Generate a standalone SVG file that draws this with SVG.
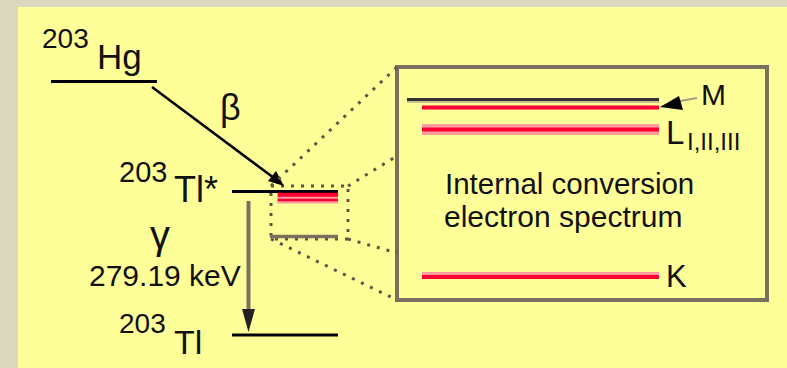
<svg xmlns="http://www.w3.org/2000/svg" width="787" height="368" viewBox="0 0 787 368">
<style>
text{font-family:"Liberation Sans",Arial,Helvetica,sans-serif;fill:#111;}
.lvl{stroke:#000;stroke-width:3;}
.dot{stroke:#5e5545;stroke-width:3;stroke-dasharray:3 7;fill:none;}
.red{stroke:#ff0033;stroke-width:4;}
.pink{fill:#ff9c9c;}
</style>
<rect x="0" y="0" width="787" height="368" fill="#dcd8bd"/>
<rect x="18" y="7" width="769" height="361" fill="#ffff99"/>

<g id="hg">
  <line class="lvl" x1="51" y1="81.5" x2="157" y2="81.5"/>
  <text x="42" y="48" font-size="28">203</text>
  <text x="97" y="69" font-size="35">Hg</text>
</g>

<g id="tl-star">
  <line class="lvl" x1="232" y1="191.5" x2="338" y2="191.5"/>
  <text x="119" y="182" font-size="29">203</text>
  <text x="174" y="202" font-size="36">Tl*</text>
  <rect class="pink" x="277" y="193" width="61" height="10.5"/>
  <line class="red" x1="278" y1="194.8" x2="338" y2="194.8"/>
  <line stroke="#ff0033" stroke-width="2.5" x1="278" y1="200" x2="338" y2="200"/>
  <rect class="dot" x="271" y="186" width="77" height="53"/>
  <line stroke="#7a7060" stroke-width="3.5" x1="270" y1="236.5" x2="338" y2="236.5"/>
</g>

<g id="tl">
  <line class="lvl" x1="232" y1="335" x2="338" y2="335"/>
  <text x="119" y="333" font-size="28">203</text>
  <text x="174" y="354" font-size="34">Tl</text>
</g>

<g id="labels">
  <text x="220" y="120" font-size="36">β</text>
  <text x="150" y="249" font-size="40">γ</text>
  <text x="89" y="286" font-size="30">279.19 keV</text>
</g>

<g id="spectrum-box">
  <rect x="397" y="67" width="370" height="233" fill="none" stroke="#7a7060" stroke-width="4"/>
  <line stroke="#333" stroke-width="3" x1="407" y1="99.5" x2="659" y2="99.5"/>
  <line stroke="#b8a988" stroke-width="1.5" x1="407" y1="102" x2="659" y2="102"/>
  <line class="red" x1="422" y1="107.5" x2="659" y2="107.5"/>
  <rect class="pink" x="422" y="124" width="237" height="11"/>
  <line class="red" x1="422" y1="129.5" x2="659" y2="129.5"/>
  <rect class="pink" x="422" y="272" width="237" height="4"/>
  <line class="red" x1="422" y1="277" x2="659" y2="277"/>
  <text x="701" y="105" font-size="30">M</text>
  <text x="666" y="144" font-size="33">L</text>
  <text x="687" y="150" font-size="24">I,II,III</text>
  <text x="666" y="287" font-size="31">K</text>
  <text x="445" y="194" font-size="29.5">Internal conversion</text>
  <text x="444" y="227" font-size="30">electron spectrum</text>
</g>

<g id="connectors">
  <line stroke="#000" stroke-width="2.5" x1="152" y1="87" x2="274" y2="178"/>
  <polygon points="284,186 268,181 276,171" fill="#000"/>
  <line stroke="#7a7060" stroke-width="4" x1="248.5" y1="201" x2="248.5" y2="312"/>
  <polygon points="242,309 255,309 248.5,332" fill="#222"/>
  <line stroke="#a89c80" stroke-width="2" x1="680" y1="101" x2="697" y2="98"/>
  <polygon points="660,107 679,96 683,110" fill="#000"/>
  <line class="dot" x1="271" y1="186" x2="397" y2="67"/>
  <line class="dot" x1="348" y1="186" x2="397" y2="156"/>
  <line class="dot" x1="271" y1="239" x2="397" y2="300"/>
  <line class="dot" x1="348" y1="239" x2="397" y2="253"/>
</g>
</svg>
